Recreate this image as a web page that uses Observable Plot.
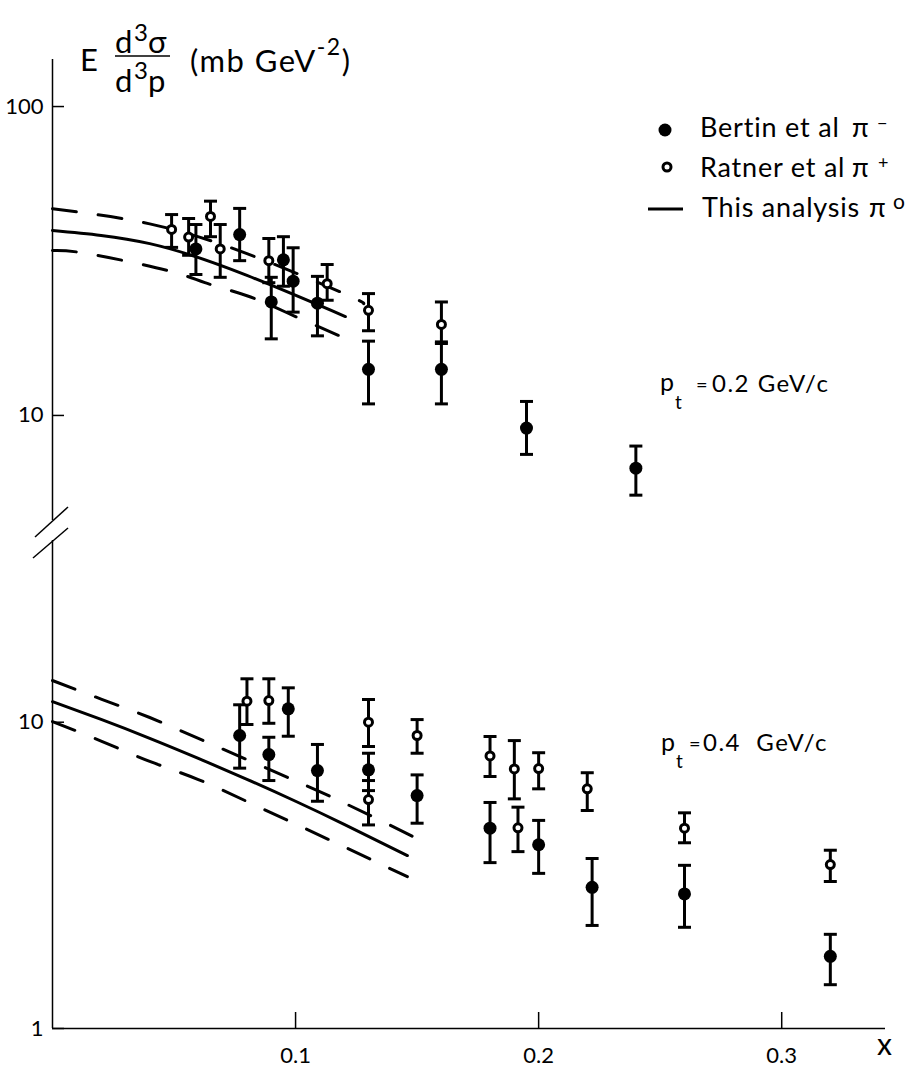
<!DOCTYPE html>
<html>
<head>
<meta charset="utf-8">
<script src="https://cdn.jsdelivr.net/npm/d3@7"></script>
<script src="https://cdn.jsdelivr.net/npm/@observablehq/plot@0.6"></script>
<style>
  html, body { margin: 0; padding: 0; background: #fff; }
  #wrap { position: relative; width: 918px; height: 1068px; overflow: hidden; background: #fff; }
  #wrap > svg { position: absolute; left: 0; }
  #overlay { position: absolute; left: 0; top: 0; pointer-events: none; }
</style>
</head>
<body>
<div id="wrap"></div>
<script>
// ---------------- DATA ----------------
// Upper panel: p_t = 0.2 GeV/c
const bertin02X  = [0.059, 0.077, 0.090, 0.095, 0.099, 0.109, 0.130, 0.160, 0.195, 0.240];
const bertin02Y  = [34.6, 38.5, 23.3, 31.9, 27.2, 23.1, 14.1, 14.1, 9.1, 6.75];
const bertin02Lo = [28.6, 31.7, 17.7, 26.2, 21.6, 18.1, 10.9, 10.9, 7.48, 5.52];
const bertin02Hi = [41.5, 46.8, 28.0, 37.9, 34.9, 28.2, 17.4, 17.1, 11.1, 7.96];

const ratner02X  = [0.049, 0.056, 0.065, 0.069, 0.089, 0.113, 0.130, 0.160];
const ratner02Y  = [40.0, 37.8, 44.1, 34.6, 31.7, 26.7, 21.9, 19.7];
const ratner02Lo = [35.0, 33.0, 37.9, 28.0, 26.9, 23.6, 18.8, 17.3];
const ratner02Hi = [44.7, 43.4, 49.4, 41.5, 37.4, 30.8, 24.8, 23.3];

const fit02X      = [0, 0.04, 0.08, 0.1205];
const fit02Y      = [39.7, 36.0, 28.4, 20.9];
const fit02UpX    = [0, 0.04, 0.08, 0.12, 0.128];
const fit02UpY    = [46.7, 41.7, 33.4, 24.8, 23.0];
const fit02LoX    = [0, 0.0145, 0.047, 0.0627, 0.08, 0.0965, 0.1195];
const fit02LoY    = [34.2, 33.4, 29.5, 26.9, 24.4, 21.5, 17.9];

// Lower panel: p_t = 0.4 GeV/c
const bertin04X  = [0.077, 0.089, 0.097, 0.109, 0.130, 0.150, 0.180, 0.200, 0.222, 0.260, 0.320];
const bertin04Y  = [9.05, 7.84, 11.06, 6.95, 6.99, 5.76, 4.51, 3.98, 2.89, 2.75, 1.72];
const bertin04Lo = [7.08, 6.45, 9.0, 5.52, 5.98, 4.68, 3.48, 3.21, 2.17, 2.14, 1.39];
const bertin04Hi = [11.4, 8.93, 12.95, 8.46, 7.92, 6.73, 5.47, 4.78, 3.59, 3.41, 2.03];

const ratner04X  = [0.080, 0.089, 0.130, 0.130, 0.150, 0.180, 0.190, 0.1915, 0.200, 0.220, 0.260, 0.320];
const ratner04Y  = [11.71, 11.77, 10.0, 5.59, 9.05, 7.76, 7.04, 4.52, 7.06, 6.06, 4.51, 3.43];
const ratner04Lo = [9.83, 9.92, 8.33, 4.62, 7.92, 6.65, 5.62, 3.78, 6.06, 5.15, 4.04, 3.02];
const ratner04Hi = [13.86, 13.86, 11.86, 6.45, 10.2, 8.98, 8.71, 5.28, 7.95, 6.84, 5.06, 3.82];

const fit04X      = [0, 0.02, 0.04, 0.06, 0.08, 0.10, 0.12, 0.146];
const fit04Y      = [11.67, 10.21, 8.86, 7.62, 6.51, 5.52, 4.64, 3.67];
const fit04UpX    = [0, 0.02, 0.04, 0.06, 0.08, 0.10, 0.12, 0.150];
const fit04UpY    = [13.68, 11.9, 10.36, 8.85, 7.55, 6.43, 5.45, 4.17];
const fit04LoX    = [0, 0.02, 0.04, 0.06, 0.08, 0.10, 0.12, 0.146];
const fit04LoY    = [10.05, 8.68, 7.45, 6.5, 5.51, 4.65, 3.92, 3.13];

const xTicks = [0.1, 0.2, 0.3];
const yTicksTop = [10, 100];
const yTicksBottom = [1, 10];

(function () {
// ---------------- HELPERS ----------------
const FONT = "Lato, 'Noto Sans', 'DejaVu Sans', sans-serif";
const rows = (xs, ys, lo, hi) => xs.map((x, i) => ({x, y: ys[i], lo: lo[i], hi: hi[i]}));
const pts = (xs, ys) => xs.map((x, i) => ({x, y: ys[i]}));
const cap = {draw(ctx, size) { const w = Math.sqrt(size / Math.PI); ctx.moveTo(-w, 0); ctx.lineTo(w, 0); }};

function panelMarks(bertin, ratner, central, upper, lower) {
  const dash = "24,22";
  return [
    Plot.line(upper, {x: "x", y: "y", stroke: "#000", strokeWidth: 3, strokeDasharray: dash, curve: "natural"}),
    Plot.line(lower, {x: "x", y: "y", stroke: "#000", strokeWidth: 3, strokeDasharray: dash, curve: "natural"}),
    Plot.line(central, {x: "x", y: "y", stroke: "#000", strokeWidth: 3, curve: "natural"}),
    Plot.ruleX(bertin, {x: "x", y1: "lo", y2: "hi", stroke: "#000", strokeWidth: 3}),
    Plot.ruleX(ratner, {x: "x", y1: "lo", y2: "hi", stroke: "#000", strokeWidth: 3}),
    Plot.dot(bertin, {x: "x", y: "lo", symbol: cap, r: 6.5, stroke: "#000", strokeWidth: 3, fill: "none"}),
    Plot.dot(bertin, {x: "x", y: "hi", symbol: cap, r: 6.5, stroke: "#000", strokeWidth: 3, fill: "none"}),
    Plot.dot(ratner, {x: "x", y: "lo", symbol: cap, r: 6.5, stroke: "#000", strokeWidth: 3, fill: "none"}),
    Plot.dot(ratner, {x: "x", y: "hi", symbol: cap, r: 6.5, stroke: "#000", strokeWidth: 3, fill: "none"}),
    Plot.dot(bertin, {x: "x", y: "y", r: 6.5, fill: "#000", stroke: "none"}),
    Plot.dot(ratner, {x: "x", y: "y", r: 4, fill: "#fff", stroke: "#000", strokeWidth: 3})
  ];
}

// y tick labels (left of the axis) drawn through the y scale
const yLabels = ticks => Plot.text(ticks, {
  y: d => d, text: d => String(d), frameAnchor: "left", textAnchor: "end", dx: -9,
  fontSize: 22, fontFamily: FONT, fill: "#000"
});

const style = {fontFamily: FONT, background: "transparent", overflow: "visible", color: "#000"};
const X_DOMAIN = [0, 0.3427];

// ---------------- UPPER PANEL ----------------
const topPlot = Plot.plot({
  width: 918, height: 530,
  marginLeft: 52, marginRight: 33, marginTop: 59, marginBottom: 10,
  style,
  x: {domain: X_DOMAIN, axis: null},
  y: {type: "log", domain: [4.57, 142]},
  marks: [
    Plot.ruleX([0], {stroke: "#000", strokeWidth: 1.5}),
    Plot.axisY({ticks: yTicksTop, tickSize: -12, tickFormat: () => "", label: null, strokeWidth: 1.5}),
    yLabels(yTicksTop),
    ...panelMarks(
      rows(bertin02X, bertin02Y, bertin02Lo, bertin02Hi),
      rows(ratner02X, ratner02Y, ratner02Lo, ratner02Hi),
      pts(fit02X, fit02Y), pts(fit02UpX, fit02UpY), pts(fit02LoX, fit02LoY))
  ]
});

// ---------------- LOWER PANEL ----------------
const BOT_TOP = 490;
const bottomPlot = Plot.plot({
  width: 918, height: 578,
  marginLeft: 52, marginRight: 33, marginTop: 50, marginBottom: 40,
  style,
  x: {domain: X_DOMAIN},
  y: {type: "log", domain: [1, 39.2]},
  marks: [
    Plot.ruleX([0], {stroke: "#000", strokeWidth: 1.5}),
    Plot.ruleY([1], {stroke: "#000", strokeWidth: 1.5}),
    Plot.axisY({ticks: yTicksBottom, tickSize: -12, tickFormat: () => "", label: null, strokeWidth: 1.5}),
    yLabels(yTicksBottom),
    Plot.axisX({ticks: xTicks, tickSize: -16, tickFormat: () => "", label: null, strokeWidth: 1.5}),
    Plot.text(xTicks, {
      x: d => d, text: d => d.toFixed(1), frameAnchor: "bottom", lineAnchor: "top", dy: 19,
      fontSize: 22, fontFamily: FONT, fill: "#000"
    }),
    ...panelMarks(
      rows(bertin04X, bertin04Y, bertin04Lo, bertin04Hi),
      rows(ratner04X, ratner04Y, ratner04Lo, ratner04Hi),
      pts(fit04X, fit04Y), pts(fit04UpX, fit04UpY), pts(fit04LoX, fit04LoY))
  ]
});

// force the tick-label size inline (wins over any inherited/stylesheet size)
d3.selectAll([topPlot, bottomPlot]).selectAll("text")
  .style("font-size", "22px").style("font-family", FONT);

const wrap = document.getElementById("wrap");
topPlot.style.top = "0px";
bottomPlot.style.top = BOT_TOP + "px";
wrap.appendChild(topPlot);
wrap.appendChild(bottomPlot);

// axis break marks (decoration on the bottom svg)
const bsvg = d3.select(bottomPlot);
[[35, 47, 68, 17], [33, 68, 68, 38]].forEach(([x1, y1, x2, y2]) =>
  bsvg.append("line").attr("x1", x1).attr("y1", y1).attr("x2", x2).attr("y2", y2)
    .attr("stroke", "#000").attr("stroke-width", 1.5));

// ---------------- TEXT OVERLAY (title, legend, labels) ----------------
const ov = d3.select(wrap).append("svg").attr("id", "overlay")
  .attr("width", 918).attr("height", 1068)
  .style("font-family", FONT).attr("fill", "#000");

function t(x, y, s, size, ls = 0) {
  const el = ov.append("text").attr("x", x).attr("y", y).attr("font-size", size).text(s);
  if (ls) el.attr("letter-spacing", ls);
  el.style("white-space", "pre");
  return el;
}

// Title  E d3σ/d3p (mb GeV-2)
t(80, 71, "E", 31);
t(115, 53, "d", 31);
t(134, 41, "3", 24);
t(148, 53, "σ", 31);
ov.append("line").attr("x1", 115).attr("x2", 170).attr("y1", 56).attr("y2", 56).attr("stroke", "#000").attr("stroke-width", 1.5);
t(115, 92, "d", 31);
t(134, 79, "3", 24);
t(148, 92, "p", 31);
const unit = ov.append("text").attr("x", 190).attr("y", 72).attr("font-size", 31).attr("letter-spacing", 1.5);
unit.append("tspan").text("(mb GeV");
unit.append("tspan").attr("dy", -17).attr("font-size", 23).text("-2");
unit.append("tspan").attr("dy", 17).attr("font-size", 31).text(")");

// Legend
ov.append("circle").attr("cx", 665).attr("cy", 130).attr("r", 6.5).attr("fill", "#000");
t(700, 137, "Bertin et al", 27, 0.8);
t(852, 137, "π", 27);
t(877, 129, "−", 18);
ov.append("circle").attr("cx", 667).attr("cy", 167).attr("r", 4).attr("fill", "#fff").attr("stroke", "#000").attr("stroke-width", 3);
t(700, 177, "Ratner et al", 27, 0.8);
t(852, 177, "π", 27);
t(878, 169, "+", 18);
ov.append("line").attr("x1", 648).attr("x2", 683).attr("y1", 209).attr("y2", 209).attr("stroke", "#000").attr("stroke-width", 3);
t(702, 217, "This analysis", 27, 0.8);
t(869, 217, "π", 27);
t(893, 209, "o", 21);

// p_t labels
t(660, 391, "p", 25);
t(675, 409, "t", 19);
t(696, 392, "=", 20);
t(712, 392, "0.2 GeV/c", 24, 1.5);

t(661, 751, "p", 25);
t(676, 768, "t", 19);
t(689, 751, "=", 20);
t(703, 751, "0.4  GeV/c", 24, 1.5);

// x axis label
t(877, 1055, "x", 30);
})();
</script>
</body>
</html>
